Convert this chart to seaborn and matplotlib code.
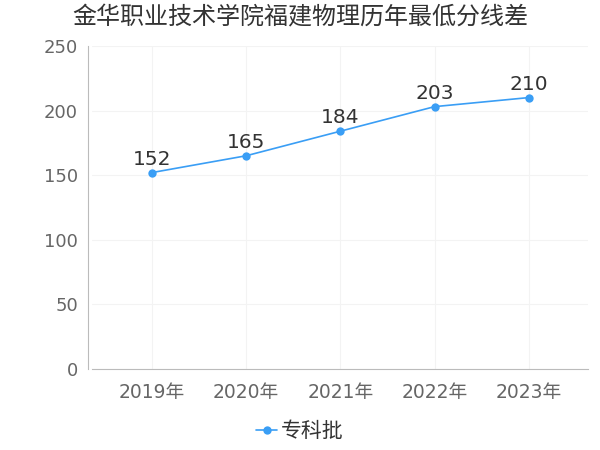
import matplotlib
matplotlib.use("Agg")
import matplotlib.pyplot as plt
import seaborn as sns
import pandas as pd

years = ["2019年", "2020年", "2021年", "2022年", "2023年"]
scores = [152, 165, 184, 203, 210]
series_name = "专科批"

df = pd.DataFrame({"year": years, "score": scores, "batch": series_name})

sns.set_style("white")
plt.rcParams["font.family"] = ["DejaVu Sans", "Noto Sans CJK SC"]
cjk = ["Noto Sans CJK SC", "DejaVu Sans"]

fig = plt.figure(figsize=(6, 4.5), dpi=100)
ax = fig.add_axes([0.153, 0.18, 0.827, 0.718])

sns.lineplot(data=df, x="year", y="score", hue="batch", palette=["#3a9ef5"],
             marker="o", markersize=6, markeredgewidth=0, linewidth=1.2,
             sort=False, ax=ax)

for i, v in enumerate(scores):
    ax.text(i, v + 3, str(v), ha="center", va="bottom", fontsize=14.5, color="#333333")

ax.set_ylim(0, 250)
ax.set_yticks([0, 50, 100, 150, 200, 250])
ax.set_xlim(-0.64, 4.63)
ax.grid(True, color="#f3f3f3", linewidth=0.8)
ax.set_xlabel("")
ax.set_ylabel("")

for s in ["top", "right"]:
    ax.spines[s].set_visible(False)
ax.spines["left"].set_color("#bbbbbb")
ax.spines["bottom"].set_color("#bbbbbb")
ax.spines["left"].set_position(("outward", 3))
ax.tick_params(axis="y", length=3, color="#bbbbbb", labelsize=13, labelcolor="#666666", pad=4)
ax.tick_params(axis="x", length=4, color="#bbbbbb", labelsize=13.5, labelcolor="#666666", pad=6)

handles = ax.get_legend().legend_handles
ax.get_legend().remove()
fig.legend(handles=handles, labels=[series_name],
           loc="center", bbox_to_anchor=(0.5, 0.042), frameon=False,
           prop={"family": cjk, "size": 15}, handlelength=1.0, handletextpad=0.2,
           labelcolor="#333333")

fig.suptitle("金华职业技术学院福建物理历年最低分线差", fontsize=17.3, color="#333333",
             x=0.5, y=0.99, family=cjk)

fig.savefig("out.png", dpi=100)
